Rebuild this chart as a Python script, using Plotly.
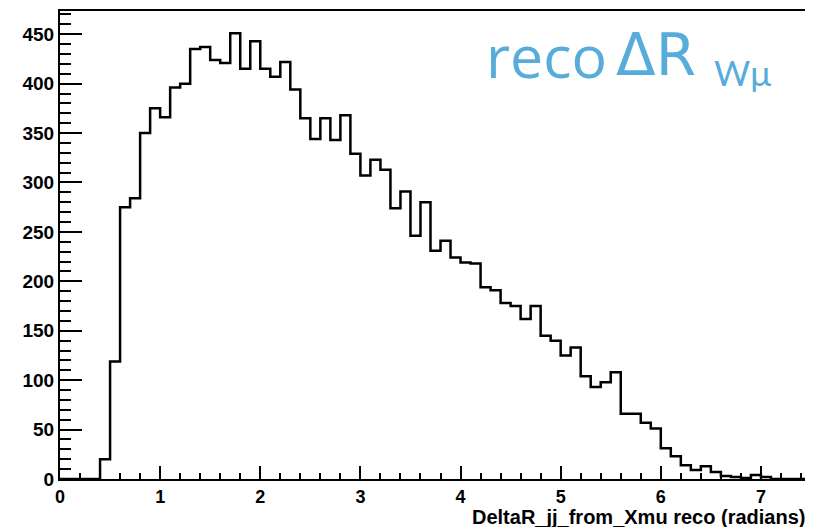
import numpy as np
import plotly.graph_objects as go

# Histogram: DeltaR_jj_from_Xmu reco, 75 bins of width 0.1 from 0 to 7.5
bin_width = 0.1
x_min = 0.0
counts = [
    0, 0, 0, 0, 20, 119, 275, 284, 350, 375,          # 0.0 - 1.0
    366, 396, 400, 435, 437, 424, 421, 451, 415, 443,  # 1.0 - 2.0
    415, 407, 422, 394, 365, 344, 365, 343, 368, 329,  # 2.0 - 3.0
    307, 323, 313, 274, 291, 246, 280, 231, 241, 224,  # 3.0 - 4.0
    219, 218, 194, 191, 178, 175, 162, 175, 145, 140,  # 4.0 - 5.0
    125, 133, 104, 93, 98, 108, 66, 66, 57, 51,        # 5.0 - 6.0
    31, 23, 14, 9, 13, 7, 3, 2, 1, 4,                  # 6.0 - 7.0
    2, 0, 0, 0, 0,                                     # 7.0 - 7.5
]
x_ticks = [0, 1, 2, 3, 4, 5, 6, 7]
y_ticks = [0, 50, 100, 150, 200, 250, 300, 350, 400, 450]
x_title = "DeltaR_jj_from_Xmu reco (radians)"
label_word = "reco"
label_sym = "ΔR"
label_sub = "Wμ"

edges = x_min + bin_width * np.arange(len(counts) + 1)
ys = list(counts) + [counts[-1]]

# page has an 8px body margin; size the figure so the plot frame lands where the reference has it
OFF = 8
W, H = 813 - OFF, 527 - OFF
L, R, T, B = 60 - OFF, 2, 11 - OFF, 48
pw, ph = W - L - R, H - T - B

fig = go.Figure()
fig.add_trace(go.Scatter(
    x=edges, y=ys, mode="lines", line=dict(shape="hv", color="black", width=2.5),
    hoverinfo="skip", showlegend=False,
))

tickfont = dict(family="Liberation Sans, Arial, sans-serif", size=18, color="black", weight="bold")
fig.update_layout(
    width=W, height=H,
    margin=dict(l=L, r=R, t=T, b=B, pad=0, autoexpand=False),
    paper_bgcolor="white", plot_bgcolor="white",
    xaxis=dict(
        range=[0, 7.5], tickvals=x_ticks, ticktext=[str(v) for v in x_ticks],
        ticks="inside", ticklen=13, tickwidth=2, tickcolor="black",
        minor=dict(dtick=0.2, tick0=0, ticks="inside", ticklen=6, tickwidth=2, tickcolor="black"),
        showline=True, linecolor="black", linewidth=2, mirror=True,
        showgrid=False, zeroline=False, tickfont=tickfont, automargin=False,
    ),
    yaxis=dict(
        range=[0, 473.5], tickvals=y_ticks, ticktext=[str(v) for v in y_ticks],
        ticks="inside", ticklen=22, tickwidth=2, tickcolor="black",
        minor=dict(dtick=10, tick0=0, ticks="inside", ticklen=11, tickwidth=2, tickcolor="black"),
        showline=True, linecolor="black", linewidth=2, mirror=True,
        showgrid=False, zeroline=False, tickfont=dict(tickfont, size=19), automargin=False,
    ),
)

def px_x(px):
    return (px - OFF - L) / pw

def px_y(py):
    return (H - B - (py - OFF)) / ph

blue = "#58ACD9"
fig.add_annotation(
    text=x_title, xref="paper", yref="paper", x=px_x(807), y=px_y(517),
    xanchor="right", yanchor="middle", showarrow=False,
    font=dict(family="Liberation Sans, Arial, sans-serif", size=20, color="black", weight="bold"),
)
fig.add_annotation(
    text=label_word, xref="paper", yref="paper", x=px_x(484), y=px_y(55),
    xanchor="left", yanchor="middle", showarrow=False,
    font=dict(family="Open Sans, sans-serif", size=59, color=blue, weight=500),
)
fig.add_annotation(
    text=label_sym, xref="paper", yref="paper", x=px_x(614), y=px_y(55),
    xanchor="left", yanchor="middle", showarrow=False,
    font=dict(family="DejaVu Sans, sans-serif", size=58, color=blue),
)
fig.add_annotation(
    text=label_sub, xref="paper", yref="paper", x=px_x(712), y=px_y(72),
    xanchor="left", yanchor="middle", showarrow=False,
    font=dict(family="Lato, sans-serif", size=35, color=blue),
)

fig.write_html("out.html")
